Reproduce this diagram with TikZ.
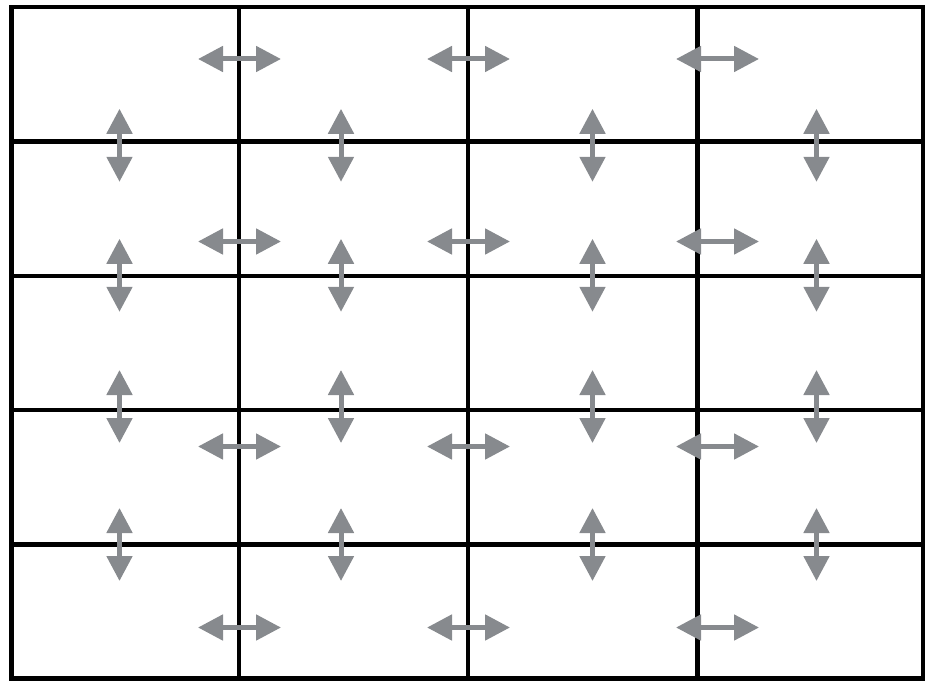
\documentclass[tikz,border=0pt]{standalone}
\usetikzlibrary{arrows.meta}
\definecolor{arrowgray}{HTML}{878A8E}
\tikzset{
  gridline/.style={line width=4.5pt, black, line cap=rect},
  swap arrow/.style={line width=5pt, arrowgray, {Triangle[length=25pt,width=25pt]}-{Triangle[length=25pt,width=25pt]}}
}
\begin{document}
\begin{tikzpicture}[x=1pt,y=-1pt]
\useasboundingbox (0,0) rectangle (925,682);
% grid
\foreach \x in {239,468,697.5}
  \draw[gridline] (\x,7) -- (\x,678.5);
\foreach \y in {141.5,276,410,544.5}
  \draw[gridline] (11.5,\y) -- (923,\y);
\draw[gridline] (11.5,7) rectangle (923,678.5);
% horizontal arrows
\foreach \y in {59,241.5,446.5,627.5}
  \foreach \x in {239.5,468.5,717.5}
    \draw[swap arrow] (\x-41.5,\y) -- (\x+41.5,\y);
% vertical arrows
\foreach \y in {145.3,275.3,406.5,544.5}
  \foreach \x in {119.5,341,592.5,816.5}
    \draw[swap arrow] (\x,\y-36.5) -- (\x,\y+36.5);
\end{tikzpicture}
\end{document}
